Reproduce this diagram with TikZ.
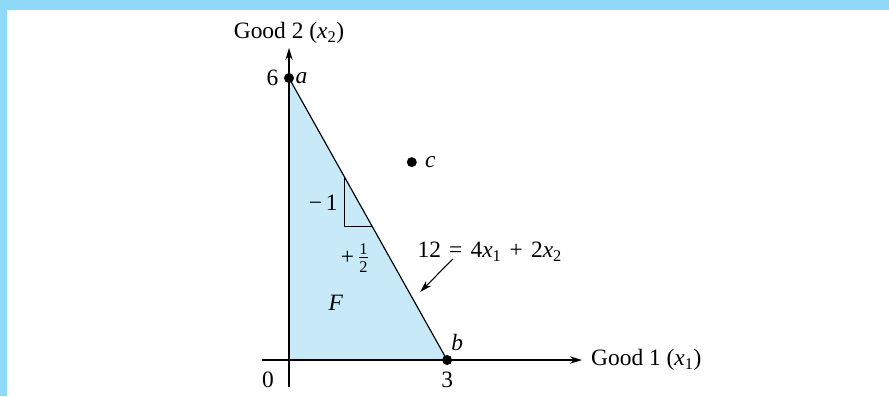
\documentclass[tikz,border=0pt]{standalone}
\usepackage{fontspec}
\setmainfont{Liberation Serif}
\usepackage{amsmath}
\usetikzlibrary{arrows.meta,positioning,calc,backgrounds}
\definecolor{framebl}{RGB}{143,217,248}
\definecolor{feasbl}{RGB}{199,233,248}

\begin{document}
\begin{tikzpicture}[
    x=1.581cm, y=1.41cm,
    font=\fontsize{20}{24}\selectfont,
    axis/.style={-{Stealth[length=3.6mm,width=2.2mm]}, line width=1pt},
    budget/.style={line width=1pt},
    pt/.style={circle, fill=black, inner sep=0pt, minimum size=3mm},
    lbl/.style={inner sep=1pt},
    arrow/.style={-{Stealth[length=3.6mm,width=2.2mm]}, line width=0.9pt}
]
    \useasboundingbox (-5.484,-0.766) rectangle (11.385,7.660);

    % corner points and the bundle c
    \node[pt] (a) at (0,6) {};
    \node[pt] (b) at (3,0) {};
    \node[pt] (c) at (2.33,4.21) {};
    \coordinate (o) at (0,0);
    \coordinate (ytop) at (0,6.64);
    \coordinate (ybot) at (0,-0.574);
    \coordinate (xleft) at (-0.512,0);
    \coordinate (xright) at (5.56,0);

    \begin{scope}[on background layer]
        \fill[framebl] (-5.484,7.457) rectangle (11.385,7.660);
        \fill[framebl] (-5.484,-0.766) rectangle (-5.342,7.660);
        \fill[feasbl] (o) -- (a.center) -- (b.center) -- cycle;
        \draw[axis] (ybot) -- (ytop);
        \draw[axis] (xleft) -- (xright);
        \draw[budget] (a.center) -- (b.center);
    \end{scope}

    % slope triangle
    \coordinate (s1) at (1.05,3.9);
    \coordinate (s2) at (1.05,2.85);
    \coordinate (s3) at (1.575,2.85);
    \draw[line width=0.8pt] (s1) -- (s2) -- (s3);

    % labels
    \node[above=0pt of ytop] (ylab) {Good 2 (\textit{x}\textsubscript{2})};
    \node[right=0.15cm of xright] (xlab) {Good 1 (\textit{x}\textsubscript{1})};
    \node[left=1pt of a] (six) {6};
    \node[lbl, right=0pt of a] (alab) {\textit{a}};
    \node[lbl, right=0.2cm of c] (clab) {\textit{c}};
    \node[lbl] (blab) at (3.19,0.38) {\textit{b}};
    \node[lbl] (zero) at (-0.4,-0.43) {0};
    \node[lbl] (three) at (3,-0.43) {3};
    \node[lbl, anchor=east] (dy) at (0.95,3.34) {−\,1};
    \node[lbl] (dx) at (1.25,2.17) {+\,$\frac{\text{1}}{\text{2}}$};
    \node[lbl] (F) at (0.89,1.21) {\textit{F}};
    \node[lbl] (eqn) at (3.81,2.30) {12\hspace{0.35em}=\hspace{0.35em}4\textit{x}\textsubscript{1}\hspace{0.35em}+\hspace{0.35em}2\textit{x}\textsubscript{2}};

    \coordinate (tail) at (3.11,2.15);
    \coordinate (tip) at (2.49,1.45);
    \draw[arrow] (tail) -- (tip);
\end{tikzpicture}
\end{document}
